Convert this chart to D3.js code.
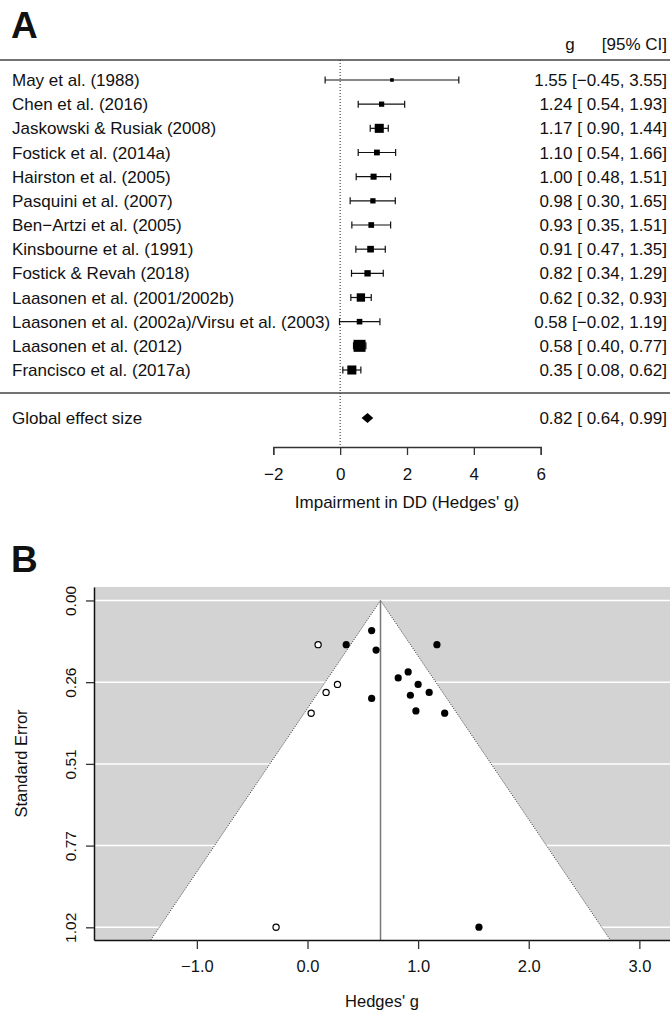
<!DOCTYPE html>
<html>
<head>
<meta charset="utf-8">
<script src="https://cdn.jsdelivr.net/npm/d3@7"></script>
<style>
  body { margin: 0; background: #fff; }
  svg text { font-family: "Liberation Sans", Arial, Helvetica, sans-serif; fill: #111; }
</style>
</head>
<body>
<div id="container"></div>
<script>

// DATA
const studies = [
    "May et al. (1988)",
    "Chen et al. (2016)",
    "Jaskowski & Rusiak (2008)",
    "Fostick et al. (2014a)",
    "Hairston et al. (2005)",
    "Pasquini et al. (2007)",
    "Ben\u2212Artzi et al. (2005)",
    "Kinsbourne et al. (1991)",
    "Fostick & Revah (2018)",
    "Laasonen et al. (2001/2002b)",
    "Laasonen et al. (2002a)/Virsu et al. (2003)",
    "Laasonen et al. (2012)",
    "Francisco et al. (2017a)"
]
const estimates = [1.55, 1.24, 1.17, 1.10, 1.00, 0.98, 0.93, 0.91, 0.82, 0.62, 0.58, 0.58, 0.35]
const ciLower = [-0.45, 0.54, 0.90, 0.54, 0.48, 0.30, 0.35, 0.47, 0.34, 0.32, -0.02, 0.40, 0.08]
const ciUpper = [3.55, 1.93, 1.44, 1.66, 1.51, 1.65, 1.51, 1.35, 1.29, 0.93, 1.19, 0.77, 0.62]
// standard errors
const studySE = [1.02, 0.352, 0.138, 0.287, 0.262, 0.345, 0.296, 0.223, 0.242, 0.155, 0.306, 0.094, 0.138]

const pooledLabel = "Global effect size"
const pooledValues = [0.82, 0.64, 0.99]   // estimate, lower, upper

const forestTicks = [-2, 0, 2, 4, 6]

// trim-and-fill imputed studies (open circles)
const imputedG = [0.096, 0.271, 0.168, 0.033, -0.284]
const imputedSE = [0.138, 0.262, 0.287, 0.352, 1.02]

const funnelCenter = 0.66
const funnelYTicks = [0, 0.2551, 0.5102, 0.7653, 1.0204]
const funnelXTicks = [-1, 0, 1, 2, 3]

const W = 670, H = 1015
const font = 17

const svg = d3.select("#container")
    .append("svg")
    .attr("width", W)
    .attr("height", H)

// ---------------- PANEL A : FOREST PLOT ----------------

svg.append("text")
    .attr("x", 11).attr("y", 38)
    .style("font-size", "37px")
    .style("font-weight", "bold")
    .text("A")

const xA = d3.scaleLinear().domain([-2, 6]).range([273.3, 540.7])
const yA = d3.scalePoint().domain(studies).range([80, 370])
const yPooled = 418
const rightEdge = 667

const precision = studySE.map(s => 1 / s)
const boxSize = d3.scaleLinear().domain(d3.extent(precision)).range([3.6, 12])

function fmt(v) {
    return v < 0 ? "\u2212" + Math.abs(v).toFixed(2) : " " + v.toFixed(2)
}
function ciText(e, lo, hi) {
    return e.toFixed(2) + " [" + fmt(lo) + ", " + hi.toFixed(2) + "]"
}

// header
svg.append("text")
    .attr("x", 570).attr("y", 50)
    .attr("text-anchor", "middle")
    .style("font-size", font + "px")
    .text("g")
svg.append("text")
    .attr("x", rightEdge).attr("y", 50)
    .attr("text-anchor", "end")
    .style("font-size", font + "px")
    .text("[95% CI]")

svg.append("line")
    .attr("x1", 0).attr("x2", W)
    .attr("y1", 60).attr("y2", 60)
    .attr("stroke", "#444").attr("stroke-width", 1.5)

svg.append("line")
    .attr("x1", 0).attr("x2", W)
    .attr("y1", 393).attr("y2", 393)
    .attr("stroke", "#444").attr("stroke-width", 1.5)

// reference line at 0
svg.append("line")
    .attr("x1", xA(0)).attr("x2", xA(0))
    .attr("y1", 60).attr("y2", 447)
    .attr("stroke", "#222")
    .attr("stroke-width", 1)
    .attr("stroke-dasharray", "1,2")

const rows = svg.append("g")
    .selectAll("g")
    .data(studies)
    .enter()
    .append("g")
    .attr("transform", d => "translate(0," + yA(d) + ")")

rows.append("text")
    .attr("x", 12).attr("dy", "0.36em")
    .style("font-size", font + "px")
    .text(d => d)

rows.append("text")
    .attr("x", rightEdge).attr("dy", "0.36em")
    .attr("text-anchor", "end")
    .style("white-space", "pre")
    .style("font-size", font + "px")
    .text((d, i) => ciText(estimates[i], ciLower[i], ciUpper[i]))

rows.append("line")
    .attr("x1", (d, i) => xA(ciLower[i]))
    .attr("x2", (d, i) => xA(ciUpper[i]))
    .attr("stroke", "#111").attr("stroke-width", 1.2)

rows.append("path")
    .attr("d", (d, i) => {
        const a = xA(ciLower[i]), b = xA(ciUpper[i])
        return "M" + a + ",-3.5V3.5M" + b + ",-3.5V3.5"
    })
    .attr("stroke", "#111").attr("stroke-width", 1.2)

rows.append("rect")
    .attr("x", (d, i) => xA(estimates[i]) - boxSize(precision[i]) / 2)
    .attr("y", (d, i) => -boxSize(precision[i]) / 2)
    .attr("width", (d, i) => boxSize(precision[i]))
    .attr("height", (d, i) => boxSize(precision[i]))
    .attr("fill", "#000")

// pooled estimate
svg.append("text")
    .attr("x", 12).attr("y", yPooled).attr("dy", "0.36em")
    .style("font-size", font + "px")
    .text(pooledLabel)
svg.append("text")
    .attr("x", rightEdge).attr("y", yPooled).attr("dy", "0.36em")
    .attr("text-anchor", "end")
    .style("white-space", "pre")
    .style("font-size", font + "px")
    .text(ciText(pooledValues[0], pooledValues[1], pooledValues[2]))
svg.append("path")
    .attr("d", "M" + xA(pooledValues[1]) + "," + yPooled +
        "L" + xA(pooledValues[0]) + "," + (yPooled - 5) +
        "L" + xA(pooledValues[2]) + "," + yPooled +
        "L" + xA(pooledValues[0]) + "," + (yPooled + 5) + "Z")
    .attr("fill", "#000")

// x axis
const axisA = svg.append("g")
    .attr("transform", "translate(0,447)")
    .call(d3.axisBottom(xA)
        .tickValues(forestTicks)
        .tickFormat(d3.format("d"))
        .tickSize(8)
        .tickSizeOuter(8)
        .tickPadding(13))
axisA.select(".domain").attr("stroke", "#333").attr("stroke-width", 1.3)
axisA.selectAll(".tick line").attr("stroke", "#333").attr("stroke-width", 1.3)
axisA.selectAll("text")
    .style("font-size", font + "px")
    .style("font-family", "'Liberation Sans', Arial, sans-serif")
    .attr("fill", "#111")

svg.append("text")
    .attr("x", xA(2)).attr("y", 508)
    .attr("text-anchor", "middle")
    .style("font-size", font + "px")
    .text("Impairment in DD (Hedges' g)")

// ---------------- PANEL B : FUNNEL PLOT ----------------

svg.append("text")
    .attr("x", 11).attr("y", 572)
    .style("font-size", "37px")
    .style("font-weight", "bold")
    .text("B")

const xB = d3.scaleLinear().domain([-1.93, 3.277]).range([94, 670])
const yB = d3.scaleLinear().domain([-0.042, 1.06]).range([587, 940])
const seMax = yB.domain()[1]

svg.append("rect")
    .attr("x", xB.range()[0]).attr("y", yB.range()[0])
    .attr("width", xB.range()[1] - xB.range()[0])
    .attr("height", yB.range()[1] - yB.range()[0])
    .attr("fill", "#d3d3d3")

svg.append("g")
    .selectAll("line")
    .data(funnelYTicks)
    .enter()
    .append("line")
    .attr("x1", xB.range()[0]).attr("x2", xB.range()[1])
    .attr("y1", d => yB(d)).attr("y2", d => yB(d))
    .attr("stroke", "#fff").attr("stroke-width", 1.5)

const funnelPts = [
    [funnelCenter - 1.96 * seMax, seMax],
    [funnelCenter, 0],
    [funnelCenter + 1.96 * seMax, seMax]
]
svg.append("path")
    .attr("d", "M" + funnelPts.map(p => xB(p[0]) + "," + yB(p[1])).join("L") + "Z")
    .attr("fill", "#fff")

svg.append("path")
    .attr("d", "M" + funnelPts.map(p => xB(p[0]) + "," + yB(p[1])).join("L"))
    .attr("fill", "none")
    .attr("stroke", "#333")
    .attr("stroke-width", 1)
    .attr("stroke-dasharray", "1,1.5")

svg.append("line")
    .attr("x1", xB(funnelCenter)).attr("x2", xB(funnelCenter))
    .attr("y1", yB(0)).attr("y2", yB(seMax))
    .attr("stroke", "#777").attr("stroke-width", 1.5)

// observed studies
svg.append("g")
    .selectAll("circle")
    .data(estimates)
    .enter()
    .append("circle")
    .attr("cx", d => xB(d))
    .attr("cy", (d, i) => yB(studySE[i]))
    .attr("r", 3.6)
    .attr("fill", "#000")

// imputed studies
svg.append("g")
    .selectAll("circle")
    .data(imputedG)
    .enter()
    .append("circle")
    .attr("cx", d => xB(d))
    .attr("cy", (d, i) => yB(imputedSE[i]))
    .attr("r", 3.1)
    .attr("fill", "#fff")
    .attr("stroke", "#000")
    .attr("stroke-width", 1.2)

// axes
const axisBx = svg.append("g")
    .attr("transform", "translate(0," + yB.range()[1] + ")")
    .call(d3.axisBottom(xB)
        .tickValues(funnelXTicks)
        .tickFormat(d3.format(".1f"))
        .tickSize(9)
        .tickSizeOuter(0)
        .tickPadding(11))
axisBx.select(".domain").attr("stroke", "#111").attr("stroke-width", 1.5)
axisBx.selectAll(".tick line").attr("stroke", "#333").attr("stroke-width", 1.3)
axisBx.selectAll("text")
    .style("font-size", "16.5px")
    .style("font-family", "'Liberation Sans', Arial, sans-serif")
    .attr("fill", "#111")

const axisBy = svg.append("g")
    .attr("transform", "translate(" + xB.range()[0] + ",0)")
    .call(d3.axisLeft(yB)
        .tickValues(funnelYTicks)
        .tickFormat(d3.format(".2f"))
        .tickSize(8)
        .tickSizeOuter(0))
axisBy.select(".domain").attr("stroke", "#111").attr("stroke-width", 1.5)
axisBy.selectAll(".tick line").attr("stroke", "#333").attr("stroke-width", 1.3)
axisBy.selectAll("text")
    .attr("x", null)
    .attr("dy", null)
    .attr("text-anchor", "middle")
    .attr("transform", "translate(-18,0) rotate(-90)")
    .style("font-size", "15.5px")
    .style("font-family", "'Liberation Sans', Arial, sans-serif")
    .attr("fill", "#111")

svg.append("text")
    .attr("transform", "translate(27," + ((yB.range()[0] + yB.range()[1]) / 2) + ") rotate(-90)")
    .attr("text-anchor", "middle")
    .style("font-size", "16.5px")
    .text("Standard Error")

svg.append("text")
    .attr("x", (xB.range()[0] + xB.range()[1]) / 2)
    .attr("y", 1007)
    .attr("text-anchor", "middle")
    .style("font-size", "16.5px")
    .text("Hedges' g")

</script>
</body>
</html>
